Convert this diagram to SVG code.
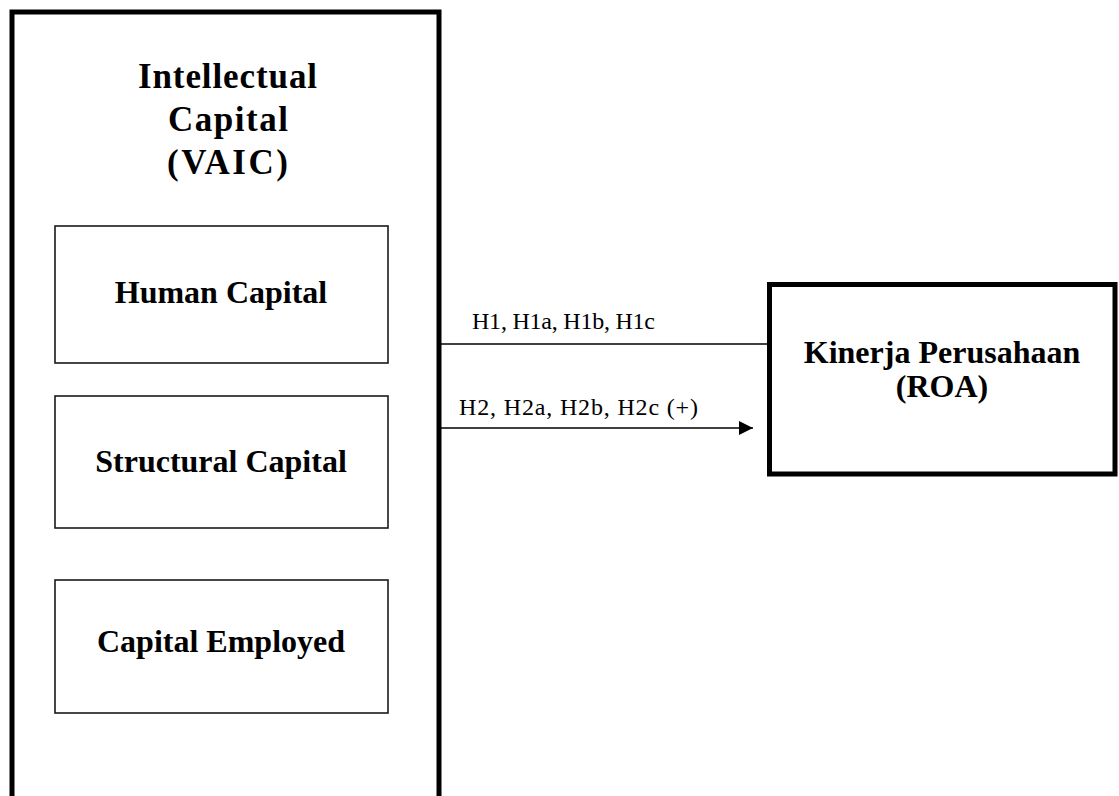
<svg xmlns="http://www.w3.org/2000/svg" width="1119" height="796" viewBox="0 0 1119 796">
<style>
.thick{fill:#fff;stroke:#000;stroke-width:5}
.thin{fill:#fff;stroke:#1a1a1a;stroke-width:1.6}
.t{font-family:"Liberation Serif","Times New Roman",serif;font-weight:bold;fill:#000;text-anchor:middle}
.lbl{font-family:"Liberation Serif","Times New Roman",serif;font-size:24px;fill:#000}
.ln{stroke:#000;stroke-width:1.6;fill:none}
</style>
<defs>
<marker id="arr" viewBox="0 0 10 10" refX="10" refY="5" markerWidth="16" markerHeight="14" markerUnits="userSpaceOnUse" orient="auto">
<path d="M0,0 L10,5 L0,10 Z" fill="#000"/>
</marker>
</defs>
<g id="ic">
<rect class="thick" x="12" y="12" width="427" height="800"/>
<text class="t" font-size="35" x="227.5" y="88" textLength="179" lengthAdjust="spacing">Intellectual</text>
<text class="t" font-size="35" x="228" y="131" textLength="120" lengthAdjust="spacing">Capital</text>
<text class="t" font-size="35" x="227.5" y="174" textLength="121" lengthAdjust="spacing">(VAIC)</text>
</g>
<g id="hc">
<rect class="thin" x="55" y="226" width="333" height="137"/>
<text class="t" font-size="32" x="221" y="303">Human Capital</text>
</g>
<g id="sc">
<rect class="thin" x="55" y="396" width="333" height="132"/>
<text class="t" font-size="32" x="221" y="472">Structural Capital</text>
</g>
<g id="ce">
<rect class="thin" x="55" y="580" width="333" height="133"/>
<text class="t" font-size="32" x="221" y="652">Capital Employed</text>
</g>
<g id="roa">
<rect class="thick" x="769.5" y="284.5" width="345.5" height="189.5"/>
<text class="t" font-size="32" x="942" y="363">Kinerja Perusahaan</text>
<text class="t" font-size="32" x="942" y="397">(ROA)</text>
</g>
<g id="connectors">
<line class="ln" x1="441" y1="344" x2="767" y2="344"/>
<text class="lbl" x="472" y="329" textLength="183" lengthAdjust="spacing">H1, H1a, H1b, H1c</text>
<line class="ln" x1="441" y1="428" x2="753" y2="428" marker-end="url(#arr)"/>
<text class="lbl" x="459" y="415" textLength="239" lengthAdjust="spacing">H2, H2a, H2b, H2c (+)</text>
</g>
</svg>
